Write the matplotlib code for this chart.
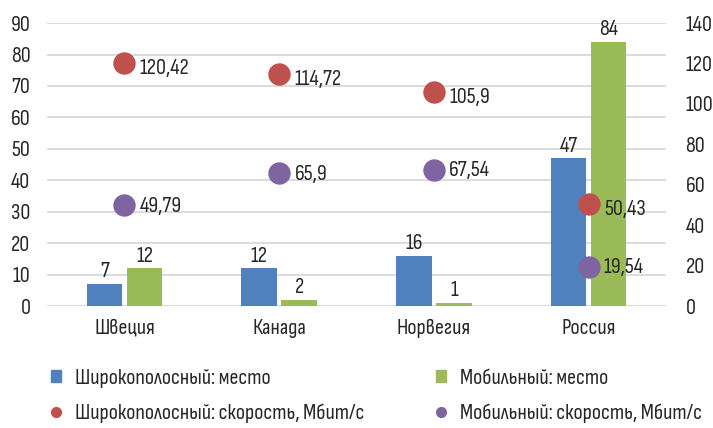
import matplotlib
matplotlib.use("Agg")
import matplotlib.pyplot as plt
from matplotlib.patches import Patch
from matplotlib.lines import Line2D
import numpy as np

plt.rcParams['font.family'] = ['Sofia Sans Condensed', 'DejaVu Sans']

countries = ["Швеция", "Канада", "Норвегия", "Россия"]
broad_place = [7, 12, 16, 47]
mobile_place = [12, 2, 1, 84]
broad_speed = [120.42, 114.72, 105.9, 50.43]
mobile_speed = [49.79, 65.9, 67.54, 19.54]
broad_speed_lbl = ["120,42", "114,72", "105,9", "50,43"]
mobile_speed_lbl = ["49,79", "65,9", "67,54", "19,54"]

blue = "#4F81BD"
green = "#9BBB59"
red = "#C0504D"
purple = "#8064A2"
txt = "#262626"
fs = 16

fig = plt.figure(figsize=(7.13, 4.28), dpi=100)
ax = fig.add_axes([0.066, 0.285, 0.868, 0.661])
ax2 = ax.twinx()

x = np.arange(len(countries))
w = 0.23
off = 0.13

b1 = ax.bar(x - off, broad_place, w, color=blue, zorder=2)
b2 = ax.bar(x + off, mobile_place, w, color=green, zorder=2)
for bars, vals in ((b1, broad_place), (b2, mobile_place)):
    for r, v in zip(bars, vals):
        ax.annotate(str(v), (r.get_x() + r.get_width() / 2, v), xytext=(0, 2),
                    textcoords="offset points", ha="center", va="bottom",
                    fontsize=fs, color=txt)

ax.set_ylim(0, 90)
ax.set_yticks(range(0, 91, 10))
ax.set_xlim(-0.5, 3.5)
ax.set_xticks(x)
ax.set_xticklabels(countries)
ax.grid(axis="y", color="#D9D9D9", linewidth=1.3, zorder=0)
ax.set_axisbelow(True)

ax2.set_ylim(0, 140)
ax2.set_yticks(range(0, 141, 20))
ax2.scatter(x, broad_speed, s=260, color=red, zorder=3, linewidths=0)
ax2.scatter(x, mobile_speed, s=260, color=purple, zorder=3, linewidths=0)
for xi, v, l in zip(x, broad_speed, broad_speed_lbl):
    ax2.annotate(l, (xi, v), xytext=(11, -4), textcoords="offset points",
                 ha="left", va="center", fontsize=fs, color=txt)
for xi, v, l in zip(x, mobile_speed, mobile_speed_lbl):
    ax2.annotate(l, (xi, v), xytext=(11, -1), textcoords="offset points",
                 ha="left", va="center", fontsize=fs, color=txt)

for a in (ax, ax2):
    for s in a.spines.values():
        s.set_visible(False)
ax.tick_params(axis="y", length=0, pad=12, labelsize=fs, labelcolor=txt)
ax.tick_params(axis="x", length=0, pad=9, labelsize=fs, labelcolor=txt)
ax2.tick_params(axis="y", length=0, pad=14, labelsize=fs, labelcolor=txt)

leg_kw = dict(loc="upper left", frameon=False, fontsize=fs, handlelength=0.42,
              handleheight=0.42, handletextpad=0.65, labelspacing=0.7,
              labelcolor=txt, borderaxespad=0, borderpad=0)
h1 = [Patch(color=blue),
      Line2D([], [], marker="o", linestyle="none", color=red, markersize=7)]
h2 = [Patch(color=green),
      Line2D([], [], marker="o", linestyle="none", color=purple, markersize=7)]
leg1 = fig.legend(h1, ["Широкополосный: место", "Широкополосный: скорость, Мбит/с"],
                  bbox_to_anchor=(0.072, 0.138), **leg_kw)
leg2 = fig.legend(h2, ["Мобильный: место", "Мобильный: скорость, Мбит/с"],
                  bbox_to_anchor=(0.612, 0.138), **leg_kw)

fig.savefig("out.png", dpi=100)
